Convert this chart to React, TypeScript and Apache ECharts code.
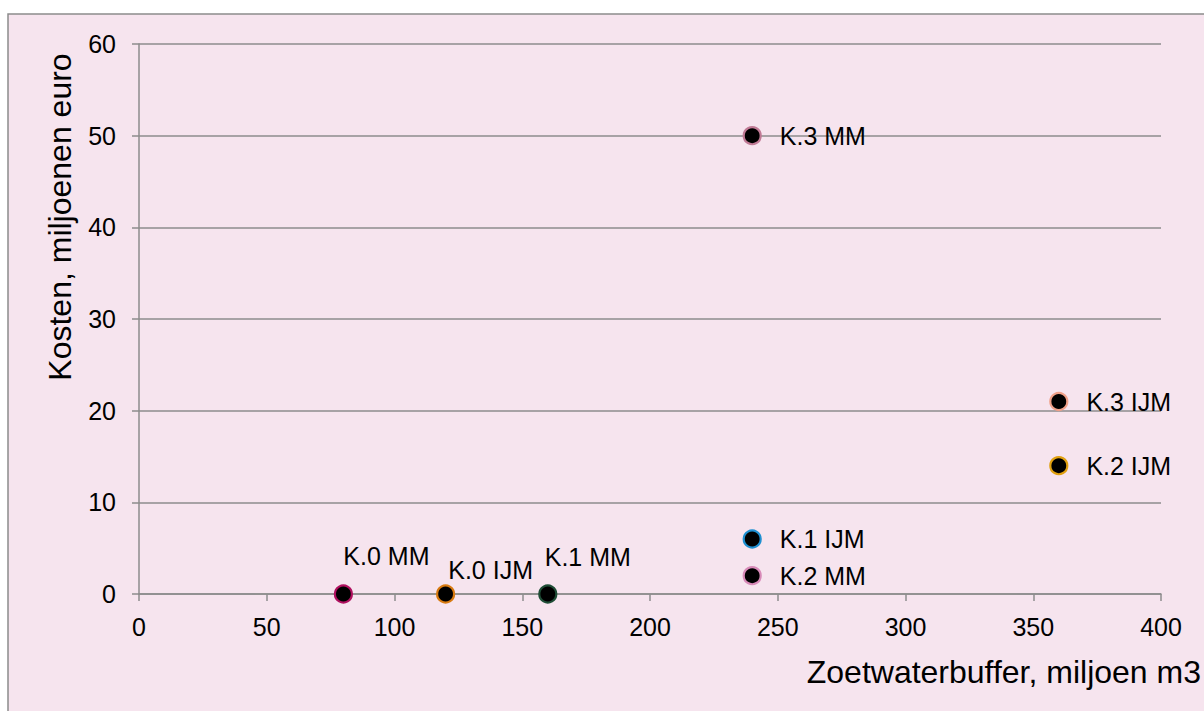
import React, { useEffect, useRef } from "react";
import * as echarts from "echarts";

// Data
const pointNames = ["K.0 MM", "K.0 IJM", "K.1 MM", "K.1 IJM", "K.2 MM", "K.3 MM", "K.3 IJM", "K.2 IJM"];
const buffer = [80, 120, 160, 240, 240, 240, 360, 360]; // miljoen m3
const kosten = [0, 0, 0, 6, 2, 50, 21, 14]; // miljoenen euro
const xTicks = [0, 50, 100, 150, 200, 250, 300, 350, 400];
const yTicks = [0, 10, 20, 30, 40, 50, 60];

// Styles (kept separate from data)
const borderColors: Record<string, string> = {
  "K.0 MM": "#b0105f",
  "K.0 IJM": "#d87a10",
  "K.1 MM": "#1f4d36",
  "K.1 IJM": "#1e8fd0",
  "K.2 MM": "#d88ab8",
  "K.3 MM": "#c07a95",
  "K.3 IJM": "#f0a088",
  "K.2 IJM": "#e0a010",
};
const labelPlacement: Record<string, any> = {
  "K.0 MM": { position: "inside", offset: [43, -38] },
  "K.0 IJM": { position: "inside", offset: [45, -24] },
  "K.1 MM": { position: "inside", offset: [40, -37] },
};

const FONT = "'Liberation Sans', Arial, sans-serif";

export default function App() {
  const ref = useRef<HTMLDivElement>(null);
  useEffect(() => {
    if (!ref.current) return;
    const chart = echarts.init(ref.current, undefined, { renderer: "svg" });
    const data = pointNames.map((name, i) => {
      const lp = labelPlacement[name] || { position: "right", distance: 18 };
      return {
        name,
        value: [buffer[i], kosten[i]],
        itemStyle: { color: "#000000", borderColor: borderColors[name], borderWidth: 2.2, opacity: 1 },
        label: {
          show: true,
          formatter: name,
          color: "#000000",
          fontSize: 25,
          fontFamily: FONT,
          ...lp,
        },
      };
    });
    chart.setOption({
      animation: false,
      backgroundColor: "#ffffff",
      textStyle: { fontFamily: FONT },
      graphic: [
        {
          type: "rect",
          z: -100,
          silent: true,
          shape: { x: 8, y: 14, width: 1220, height: 720 },
          style: { fill: "#f6e4ee", stroke: "#8c8c8c", lineWidth: 1.5 },
        },
        {
          type: "text",
          z: 10,
          x: 60,
          y: 217,
          rotation: Math.PI / 2,
          style: {
            text: "Kosten, miljoenen euro",
            fontSize: 32,
            fontFamily: FONT,
            fill: "#000000",
            align: "center",
            verticalAlign: "middle",
          },
        },
        {
          type: "text",
          z: 10,
          x: 1201,
          y: 672,
          style: {
            text: "Zoetwaterbuffer, miljoen m3",
            fontSize: 32,
            fontFamily: FONT,
            fill: "#000000",
            align: "right",
            verticalAlign: "middle",
          },
        },
      ],
      grid: { left: 139, right: 43, top: 44, bottom: 117, containLabel: false },
      xAxis: {
        type: "value",
        min: xTicks[0],
        max: xTicks[xTicks.length - 1],
        interval: xTicks[1] - xTicks[0],
        axisLine: { show: true, onZero: false, lineStyle: { color: "#8c8c8c", width: 1.5 } },
        axisTick: { show: true, length: 7, lineStyle: { color: "#8c8c8c", width: 1.5 } },
        axisLabel: { color: "#000000", fontSize: 25, fontFamily: FONT, margin: 20 },
        splitLine: { show: false },
      },
      yAxis: {
        type: "value",
        min: yTicks[0],
        max: yTicks[yTicks.length - 1],
        interval: yTicks[1] - yTicks[0],
        axisLine: { show: true, lineStyle: { color: "#8c8c8c", width: 1.5 } },
        axisTick: { show: true, length: 7, lineStyle: { color: "#8c8c8c", width: 1.5 } },
        axisLabel: { color: "#000000", fontSize: 25, fontFamily: FONT, margin: 23 },
        splitLine: { show: true, lineStyle: { color: "#8c8c8c", width: 1.5 } },
      },
      series: [
        {
          type: "scatter",
          symbol: "circle",
          symbolSize: 17,
          itemStyle: { opacity: 1 },
          data,
          z: 5,
        },
      ],
    });
    return () => chart.dispose();
  }, []);
  return (
    <div
      ref={ref}
      style={{ position: "fixed", left: 0, top: 0, width: 1204, height: 711 }}
    />
  );
}
